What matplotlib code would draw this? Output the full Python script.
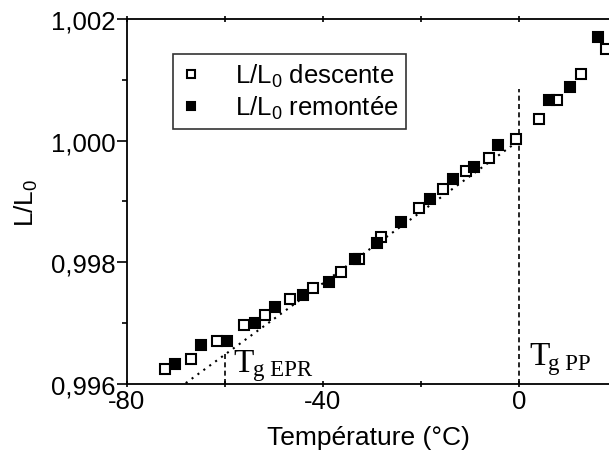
import matplotlib.pyplot as plt
from matplotlib.ticker import MultipleLocator, FuncFormatter

# Data
t_desc = [-72.2, -67.0, -61.7, -56.1, -51.8, -46.7, -42.0, -36.4, -32.6, -28.2,
          -20.3, -15.4, -10.8, -6.1, -0.6, 4.2, 7.8, 12.6, 17.8]
l_desc = [0.99624, 0.99641, 0.99670, 0.99697, 0.99713, 0.99739, 0.99757, 0.99784,
          0.99805, 0.99841, 0.99889, 0.99921, 0.99950, 0.99972, 1.00002, 1.00036,
          1.00066, 1.00110, 1.00150]
t_rem = [-70.1, -64.9, -59.5, -53.9, -49.7, -44.1, -38.7, -33.5, -28.9, -24.0,
         -18.2, -13.4, -9.2, -4.2, 6.2, 10.5, 16.2]
l_rem = [0.99632, 0.99663, 0.99671, 0.99700, 0.99726, 0.99746, 0.99768, 0.99805,
         0.99831, 0.99866, 0.99904, 0.99937, 0.99956, 0.99993, 1.00066, 1.00088,
         1.00170]

fit_t = [-68.0, 0.0]
fit_l = [0.99601, 1.00000]
tg_epr = -60.0
tg_epr_top = 0.99649
tg_pp = 0.0
tg_pp_top = 1.00085

plt.rcParams['font.family'] = ['Liberation Sans', 'DejaVu Sans']
plt.rcParams['mathtext.default'] = 'regular'

fig = plt.figure(figsize=(6.09, 4.64), dpi=100)
ax = fig.add_axes([0.2085, 0.1709, 0.7915, 0.786])

ax.plot(fit_t, fit_l, color='black', ls=(0, (1, 2.5)), lw=1.5)
ax.plot([tg_epr, tg_epr], [0.996, tg_epr_top], color='black', ls=(0, (3, 2)), lw=1.2)
ax.plot([tg_pp, tg_pp], [0.996, tg_pp_top], color='black', ls=(0, (3, 2)), lw=1.2)

ax.plot(t_desc, l_desc, ls='none', marker='s', ms=6.5, mfc='white', mec='black',
        mew=1.5, label=r'L/L$_\mathregular{0}$ descente')
ax.plot(t_rem, l_rem, ls='none', marker='s', ms=6.5, mfc='black', mec='black',
        mew=1.5, label=r'L/L$_\mathregular{0}$ remontée')

ax.set_xlim(-80, 18.4)
ax.set_ylim(0.996, 1.002)
ax.xaxis.set_major_locator(MultipleLocator(40))
ax.xaxis.set_minor_locator(MultipleLocator(20))
ax.yaxis.set_major_locator(MultipleLocator(0.002))
ax.yaxis.set_minor_locator(MultipleLocator(0.001))
ax.yaxis.set_major_formatter(FuncFormatter(lambda v, p: f'{v:.3f}'.replace('.', ',')))
ax.xaxis.set_major_formatter(FuncFormatter(lambda v, p: f'{v:.0f}'))

ax.spines['right'].set_visible(False)
for s in ['left', 'bottom', 'top']:
    ax.spines[s].set_linewidth(1.3)
ax.tick_params(which='both', direction='out', width=1.2, labelsize=18.5, top=True)
ax.tick_params(which='major', length=7, pad=1)
ax.tick_params(which='minor', length=3.5)
ax.tick_params(axis='x', which='both', length=5)
ax.tick_params(axis='x', which='both', top=True, direction='inout')

ax.set_xlabel('Température (°C)', fontsize=19, labelpad=9)
ax.set_ylabel(r'L/L$_\mathregular{0}$', fontsize=19, labelpad=8)

ax.text(-58.2, 0.996214, 'T', family='Liberation Serif', fontsize=24, va='baseline')
ax.text(-54.3, 0.996150, 'g EPR', family='Liberation Serif', fontsize=16.5, va='baseline')
ax.text(2.1, 0.996324, 'T', family='Liberation Serif', fontsize=24, va='baseline')
ax.text(6.0, 0.996240, 'g PP', family='Liberation Serif', fontsize=16.5, va='baseline')

leg = ax.legend(loc='lower left', bbox_to_anchor=(0.0954, 0.698), fontsize=18.5,
                frameon=True, fancybox=False, borderaxespad=0, handlelength=0.8,
                handletextpad=1.3, borderpad=0.3, labelspacing=0.2, markerscale=0.8)
leg.get_frame().set_edgecolor('black')
leg.get_frame().set_linewidth(1.2)

fig.savefig('out.png', dpi=100)
